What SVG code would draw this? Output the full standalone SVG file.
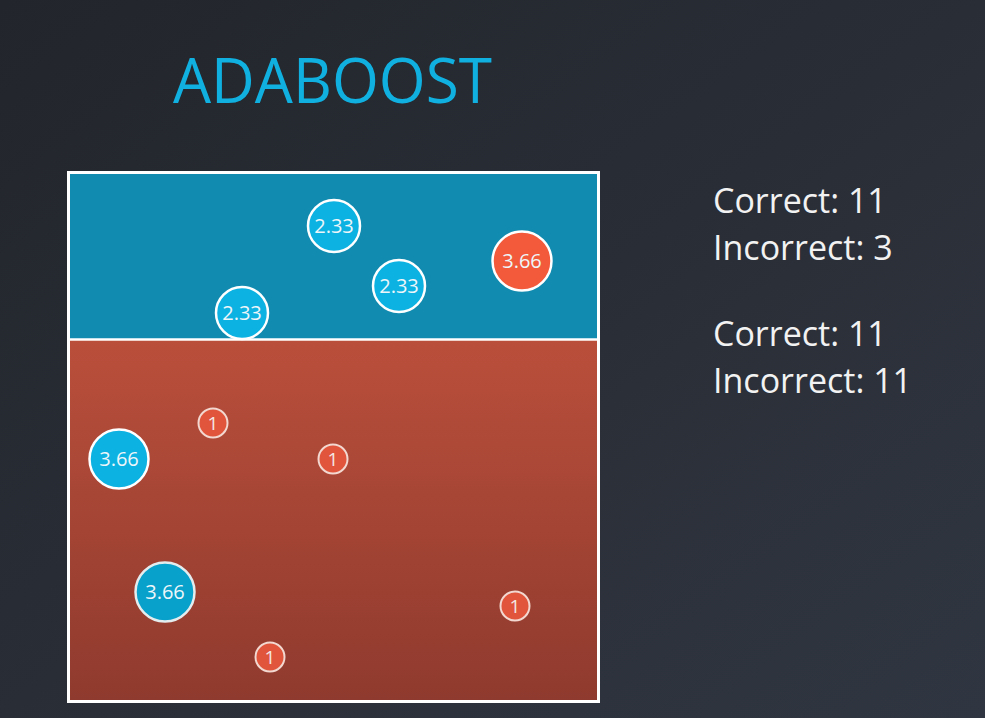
<svg xmlns="http://www.w3.org/2000/svg" width="985" height="718" viewBox="0 0 985 718">
  <defs>
    <linearGradient id="bg" x1="0" y1="0" x2="1" y2="1">
      <stop offset="0" stop-color="#22252b"/>
      <stop offset="1" stop-color="#303641"/>
    </linearGradient>
    <linearGradient id="red" x1="0" y1="0" x2="0" y2="1">
      <stop offset="0" stop-color="#ba4f3b"/>
      <stop offset="1" stop-color="#8f3a2e"/>
    </linearGradient>
    <style>
      text { font-family: "Open Sans", "Noto Sans", "Liberation Sans", sans-serif; }
      .lbl { fill: #eef6fa; font-size: 20px; text-anchor: middle; }
      .one { fill: #f4e8e4; font-size: 19px; text-anchor: middle; }
      .blue { fill: #0cb2e2; stroke: #ffffff; stroke-width: 2.5; }
      .dblue { fill: #07a1cb; stroke: #e4ecee; stroke-width: 2.5; }
      .redc { fill: #f25a3b; stroke: #ffffff; stroke-width: 2.5; }
      .small { fill: #e0553b; stroke: #f2d8d0; stroke-width: 2; }
      .side { fill: #f2f2f2; font-size: 34px; }
    </style>
  </defs>
  <rect x="0" y="0" width="985" height="718" fill="url(#bg)"/>
  <text x="173" y="103" font-size="62" fill="#10b1e1" textLength="319" lengthAdjust="spacingAndGlyphs">ADABOOST</text>

  <g id="plot">
    <rect x="69" y="173" width="529" height="167" fill="#118bb0"/>
    <rect x="69" y="340" width="529" height="361" fill="url(#red)"/>
    <line x1="69" y1="339.5" x2="598" y2="339.5" stroke="#ffffff" stroke-width="2.5"/>
    <rect x="68.5" y="172.5" width="530" height="529" fill="none" stroke="#ffffff" stroke-width="3"/>
  </g>

  <g id="p1"><circle class="blue" cx="334" cy="226" r="26"/><text class="lbl" x="334" y="233">2.33</text></g>
  <g id="p2"><circle class="blue" cx="399" cy="286" r="26"/><text class="lbl" x="399" y="293">2.33</text></g>
  <g id="p3"><circle class="blue" cx="242" cy="313" r="26"/><text class="lbl" x="242" y="320">2.33</text></g>
  <g id="p4"><circle class="redc" cx="522" cy="261" r="29.5"/><text class="lbl" x="522" y="268">3.66</text></g>
  <g id="p5"><circle class="blue" cx="119" cy="459" r="29.5"/><text class="lbl" x="119" y="466">3.66</text></g>
  <g id="p6"><circle class="dblue" cx="165" cy="592" r="29.5"/><text class="lbl" x="165" y="599">3.66</text></g>
  <g id="p7"><circle class="small" cx="213" cy="423" r="14.5"/><text class="one" x="213" y="430">1</text></g>
  <g id="p8"><circle class="small" cx="333" cy="459" r="14.5"/><text class="one" x="333" y="466">1</text></g>
  <g id="p9"><circle class="small" cx="515" cy="606" r="14.5"/><text class="one" x="515" y="613">1</text></g>
  <g id="p10"><circle class="small" cx="270" cy="657" r="14.5"/><text class="one" x="270" y="664">1</text></g>

  <g id="stats">
    <text class="side" x="713" y="213">Correct: 11</text>
    <text class="side" x="713" y="260">Incorrect: 3</text>
    <text class="side" x="713" y="346">Correct: 11</text>
    <text class="side" x="713" y="393">Incorrect: 11</text>
  </g>
</svg>
